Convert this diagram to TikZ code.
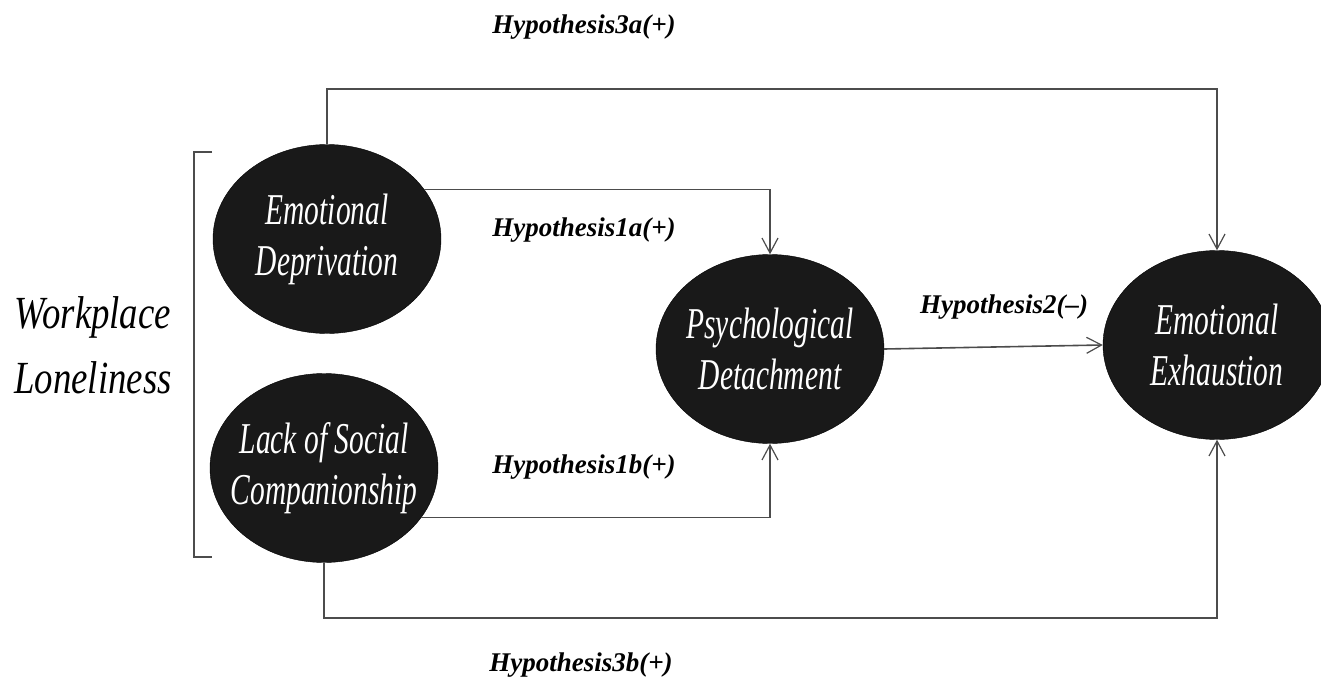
\documentclass[tikz,border=0pt]{standalone}
\usepackage{fontspec}
\setmainfont{Liberation Serif}
\newfontfamily\narrowfont{Liberation Serif}[FakeStretch=0.67]
\newfontfamily\loosefont{Liberation Serif}[FakeStretch=0.8]
\usetikzlibrary{arrows.meta}
\usetikzlibrary{shapes.geometric}
\tikzset{
    construct/.style = {ellipse,fill=black!90,draw=black,inner sep=0,minimum width=228pt,minimum height=189pt},
    caption/.style = {text=white,align=center,inner sep=0,font=\narrowfont\itshape\fontsize{44}{51}\selectfont},
    hyp/.style = {draw=black!70,line width=1.6pt,-{Straight Barb[length=15pt,width=16pt,line width=1.2pt]}},
    hyplabel/.style = {font=\bfseries\itshape\fontsize{27}{32}\selectfont}
}
\tikzset{
    group/.style = {draw=black!70,line width=1.2pt}
}

\begin{document}
\begin{tikzpicture}[x=1pt,y=-1pt]
    \newcommand*\rail{55}
    \useasboundingbox (0,0) rectangle (1321,679);
    % Constructs
    \path node[construct,label={[caption]center:Emotional\\Deprivation}] (ED) at (327,239) {}
        node[construct,label={[caption]center:Lack of Social\\Companionship}] (LSC) at (324,468) {}
        node[construct,label={[caption]center:Psychological\\Detachment}] (PD) at (770,349) {}
        node[construct,label={[caption]center:Emotional\\Exhaustion}] (EE) at (1217,345) {}
    ;
    % Workplace loneliness
    \node[align=center,font=\loosefont\itshape\fontsize{46}{65}\selectfont] (WL) at (93,345) {Workplace\\Loneliness};
    \draw[group] (212,152) -- (194,152) -- (194,557) -- (212,557);
    % Hypotheses
    \path node[hyplabel] (h3a) at (584,27) {Hypothesis3a(+)}
        node[hyplabel] (h1a) at (584,230) {Hypothesis1a(+)}
        node[hyplabel] (h1b) at (584,467) {Hypothesis1b(+)}
        node[hyplabel] (h2) at (1004,307) {Hypothesis2(--)}
        node[hyplabel] (h3b) at (581,665) {Hypothesis3b(+)}
    ;
    % Paths
    \draw[hyp] (ED.north) -- ++(0,-\rail) -| (EE.north);
    \draw[hyp] (LSC.south) -- ++(0,\rail) -| (EE.south);
    \draw[hyp] (ED.27) -| (PD.north);
    \draw[hyp] (LSC.-27) -| (PD.south);
    \draw[hyp] (PD.east) -- (EE.west);
\end{tikzpicture}
\end{document}
